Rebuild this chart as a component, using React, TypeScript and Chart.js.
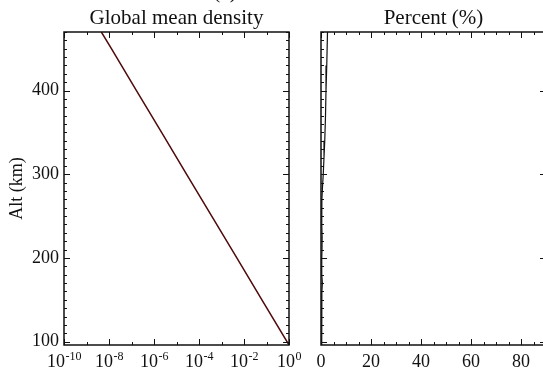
import React, { useEffect, useRef } from 'react';
import { Chart, registerables } from 'chart.js';

Chart.register(...registerables);

// ---- data ----
const altitudeKm = [96, 150, 200, 250, 300, 350, 400, 450, 470];
const densityRatio = [1, 6.25e-2, 4.8e-3, 3.68e-4, 2.82e-5, 2.17e-6, 1.66e-7, 1.28e-8, 4.57e-9];

const percentAlt = [470, 430, 400, 370, 340, 320, 300, 285, 270, 255, 240, 225, 210, 200, 190, 180, 170, 160, 145, 130, 115, 100, 96];
const percentValue = [2.6, 2.3, 2.0, 1.8, 1.5, 1.2, 0.9, 0.6, 0.35, 0.25, 0.35, 0.45, 0.4, 0.3, 0.25, 0.35, 0.55, 0.35, 0.2, 0.3, 0.35, 0.3, 0.3];

const yTickValues = [100, 200, 300, 400];
const densityExponents = [-10, -8, -6, -4, -2, 0];
const densityMinorExponents = [-9, -7, -5, -3, -1];
const percentTicks = [0, 20, 40, 60, 80];

const panelTitles = ['Global mean density', 'Percent (%)'];
const yAxisTitle = 'Alt (km)';
const panelTag = '(a)';

const FONT = '"Liberation Serif", "Times New Roman", serif';
const INK = '#111';

const ALT_MIN = 96;
const ALT_MAX = 470;

function rangeStep(a: number, b: number, s: number) {
  const out: number[] = [];
  for (let v = a; v <= b + 1e-9; v += s) out.push(v);
  return out;
}

const framePlugin = {
  id: 'frameTicks',
  afterDraw(chart: any, _args: any, opts: any) {
    const { ctx, chartArea: a, scales } = chart;
    const xs = scales.x;
    const ys = scales.y;
    ctx.save();
    ctx.strokeStyle = INK;
    ctx.lineWidth = 1;
    ctx.beginPath();
    const xMark = (vals: number[], len: number) => {
      vals.forEach((v) => {
        const px = Math.round(xs.getPixelForValue(v)) + 0.5;
        ctx.moveTo(px, a.bottom);
        ctx.lineTo(px, a.bottom - len);
        ctx.moveTo(px, a.top);
        ctx.lineTo(px, a.top + len);
      });
    };
    const yMark = (vals: number[], len: number) => {
      vals.forEach((v) => {
        const py = Math.round(ys.getPixelForValue(v)) + 0.5;
        ctx.moveTo(a.left, py);
        ctx.lineTo(a.left + len, py);
        ctx.moveTo(a.right, py);
        ctx.lineTo(a.right - len, py);
      });
    };
    xMark(opts.xMajor, 6);
    xMark(opts.xMinor, 3);
    yMark(opts.yMajor, 6);
    yMark(opts.yMinor, 3);
    ctx.stroke();

    ctx.lineWidth = 1.5;
    ctx.strokeRect(Math.round(a.left), Math.round(a.top), Math.round(a.right - a.left), Math.round(a.bottom - a.top));

    ctx.fillStyle = INK;
    ctx.font = `21px ${FONT}`;
    ctx.textAlign = 'center';
    ctx.textBaseline = 'alphabetic';
    ctx.fillText(opts.title, (a.left + a.right) / 2, 24);

    if (opts.tag) {
      ctx.fillText(opts.tag, opts.tagX, -2);
    }

    if (opts.expLabels) {
      ctx.textAlign = 'left';
      opts.expLabels.forEach((e: number) => {
        const px = xs.getPixelForValue(Math.pow(10, e));
        ctx.font = `18px ${FONT}`;
        const w1 = ctx.measureText('10').width;
        ctx.font = `12px ${FONT}`;
        const w2 = ctx.measureText(String(e)).width;
        const start = px - (w1 + w2) / 2;
        ctx.font = `18px ${FONT}`;
        ctx.fillText('10', start, 367);
        ctx.font = `12px ${FONT}`;
        ctx.fillText(String(e), start + w1 + 0.5, 360);
      });
    }
    ctx.restore();
  },
};

function DensityPanel() {
  const ref = useRef<HTMLCanvasElement>(null);
  useEffect(() => {
    const chart = new Chart(ref.current as HTMLCanvasElement, {
      type: 'scatter',
      data: {
        datasets: [
          {
            data: altitudeKm.map((alt, i) => ({ x: densityRatio[i], y: alt })),
            showLine: true,
            borderColor: '#4e0a0a',
            borderWidth: 1.5,
            pointRadius: 0,
            fill: false,
          },
        ],
      },
      options: {
        responsive: false,
        animation: false,
        devicePixelRatio: 1,
        layout: { padding: { top: 32, right: 21, bottom: 0, left: 0 } },
        plugins: {
          legend: { display: false },
          tooltip: { enabled: false },
          frameTicks: {
            xMajor: densityExponents.map((e) => Math.pow(10, e)),
            xMinor: densityMinorExponents.map((e) => Math.pow(10, e)),
            yMajor: yTickValues,
            yMinor: rangeStep(100, 470, 10),
            title: panelTitles[0],
            tag: panelTag,
            tagX: 225,
            expLabels: densityExponents,
          },
        } as any,
        scales: {
          x: {
            type: 'logarithmic',
            min: 1e-10,
            max: 1,
            ticks: { display: false },
            grid: { display: false, drawTicks: false },
            border: { display: false },
            afterFit: (s: any) => {
              s.height = 25;
            },
          },
          y: {
            type: 'linear',
            min: ALT_MIN,
            max: ALT_MAX,
            afterBuildTicks: (s: any) => {
              s.ticks = yTickValues.map((value) => ({ value }));
            },
            ticks: { font: { family: FONT, size: 18 }, color: INK, padding: 5 },
            grid: { display: false, drawTicks: false },
            border: { display: false },
            title: {
              display: true,
              text: yAxisTitle,
              font: { family: FONT, size: 18 },
              color: INK,
              padding: { top: 6, bottom: 0 },
            },
            afterFit: (s: any) => {
              s.width = 64;
            },
          },
        },
      } as any,
      plugins: [framePlugin],
    });
    return () => chart.destroy();
  }, []);
  return <canvas ref={ref} width={310} height={370} />;
}

function PercentPanel() {
  const ref = useRef<HTMLCanvasElement>(null);
  useEffect(() => {
    const chart = new Chart(ref.current as HTMLCanvasElement, {
      type: 'scatter',
      data: {
        datasets: [
          {
            data: percentAlt.map((alt, i) => ({ x: percentValue[i], y: alt })),
            showLine: true,
            borderColor: '#111',
            borderWidth: 1.2,
            pointRadius: 0,
            fill: false,
          },
        ],
      },
      options: {
        responsive: false,
        animation: false,
        devicePixelRatio: 1,
        layout: { padding: { top: 32, right: 24, bottom: 0, left: 0 } },
        plugins: {
          legend: { display: false },
          tooltip: { enabled: false },
          frameTicks: {
            xMajor: percentTicks,
            xMinor: rangeStep(5, 85, 5).filter((v) => v % 20 !== 0),
            yMajor: yTickValues,
            yMinor: rangeStep(100, 470, 10),
            title: panelTitles[1],
          },
        } as any,
        scales: {
          x: {
            type: 'linear',
            min: 0,
            max: 90,
            afterBuildTicks: (s: any) => {
              s.ticks = percentTicks.map((value) => ({ value }));
            },
            ticks: { font: { family: FONT, size: 18 }, color: INK, padding: 6, maxRotation: 0 },
            grid: { display: false, drawTicks: false },
            border: { display: false },
            afterFit: (s: any) => {
              s.height = 25;
            },
          },
          y: {
            type: 'linear',
            min: ALT_MIN,
            max: ALT_MAX,
            ticks: { display: false },
            grid: { display: false, drawTicks: false },
            border: { display: false },
            afterFit: (s: any) => {
              s.width = 31;
            },
          },
        },
      } as any,
      plugins: [framePlugin],
    });
    return () => chart.destroy();
  }, []);
  return <canvas ref={ref} width={280} height={370} />;
}

export default function App() {
  return (
    <div
      style={{
        position: 'fixed',
        left: 0,
        top: 0,
        width: 543,
        height: 370,
        overflow: 'hidden',
        background: '#fff',
      }}
    >
      <div style={{ position: 'absolute', left: 0, top: 0, width: 310, height: 370 }}>
        <DensityPanel />
      </div>
      <div style={{ position: 'absolute', left: 290, top: 0, width: 280, height: 370 }}>
        <PercentPanel />
      </div>
    </div>
  );
}
